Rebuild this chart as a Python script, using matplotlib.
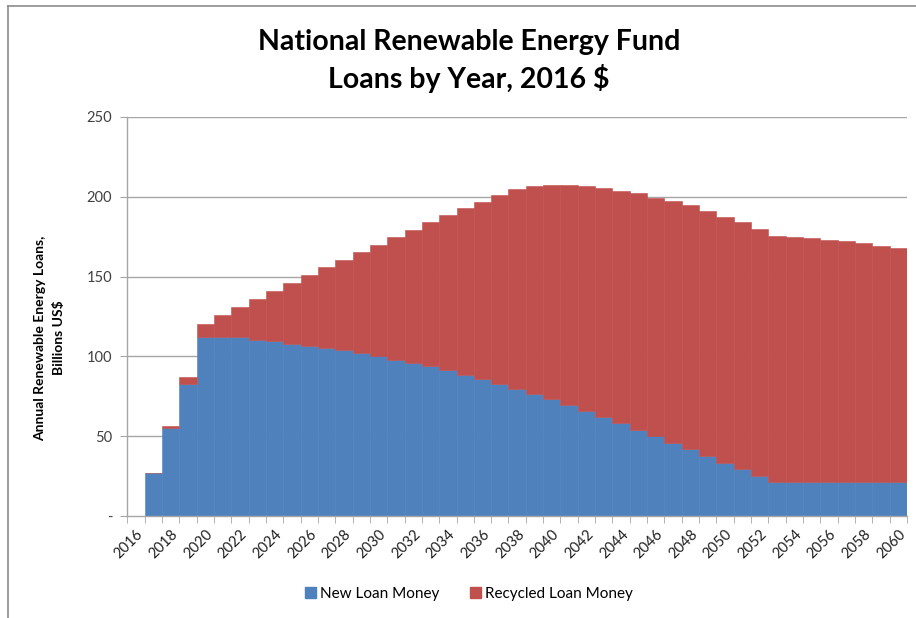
import matplotlib
matplotlib.use("Agg")
import matplotlib.pyplot as plt
from matplotlib.patches import Patch
from matplotlib.lines import Line2D

plt.rcParams['font.family'] = ['Lato', 'DejaVu Sans']

# Дані (млрд дол. США, ціни 2016 р.)
years = list(range(2016, 2061))
new_loan = [0, 27, 55, 83, 112, 112, 112, 110.5, 109.4, 108,
            106.7, 105.5, 103.7, 102.1, 100, 97.9, 95.9, 93.8, 91.3, 88.5,
            85.8, 82.9, 79.8, 76.7, 73.3, 69.5, 66, 61.8, 58.1, 54.1,
            50.1, 45.7, 41.8, 37.6, 33.2, 29.2, 25.1, 21.3, 21.3, 21.3,
            21.3, 21.3, 21.3, 21.3, 21.3]
recycled_loan = [0, 0, 1.5, 4, 8, 13.7, 19, 25.5, 31.4, 38,
                 44.1, 50.3, 56.7, 63.1, 69.8, 76.7, 83.3, 90.2, 97.3, 104.3,
                 111.1, 118.2, 124.9, 130.3, 134.1, 137.9, 140.6, 143.5, 145.7, 148.1,
                 149.3, 151.9, 152.9, 153.7, 154.3, 154.8, 154.5, 154.3, 153.7, 152.7,
                 151.8, 151, 149.7, 148.1, 146.4]
y_ticks = [0, 50, 100, 150, 200, 250]
y_tick_labels = ['-', '50', '100', '150', '200', '250']
series_names = ['New Loan Money', 'Recycled Loan Money']

blue = '#4F81BD'
red = '#C0504D'
grid_gray = '#A6A6A6'

fig = plt.figure(figsize=(9.16, 6.18), dpi=100)
ax = fig.add_axes([127.3 / 916, 1 - 516 / 618, (907 - 127.3) / 916, (516 - 117) / 618])

x = list(range(len(years)))
ax.bar(x, new_loan, width=1.0, color=blue, edgecolor=blue, linewidth=0.4, zorder=2)
ax.bar(x, recycled_loan, width=1.0, bottom=new_loan, color=red,
       edgecolor=red, linewidth=0.4, zorder=2)

ax.set_xlim(-0.5, len(years) - 0.5)
ax.set_ylim(0, 250)

# Горизонтальні лінії сітки
ax.set_yticks(y_ticks)
ax.set_yticklabels(y_tick_labels, fontsize=10.5, color='#404040')
for v in y_ticks[1:]:
    ax.axhline(v, color=grid_gray, linewidth=1.0, zorder=1)

# Підписи років через один, поділки між категоріями
ax.set_xticks(x[::2])
ax.set_xticklabels([str(y) for y in years[::2]], rotation=45, ha='right',
                   rotation_mode='anchor', fontsize=10.5, color='#202020')
ax.set_xticks([i - 0.5 for i in range(len(years) + 1)], minor=True)
ax.tick_params(axis='x', which='major', length=0, pad=8)
ax.tick_params(axis='x', which='minor', length=5, color=grid_gray, direction='out')
ax.tick_params(axis='y', length=5, color=grid_gray, direction='out', pad=6)

for side in ['top', 'right']:
    ax.spines[side].set_visible(False)
for side in ['left', 'bottom']:
    ax.spines[side].set_color(grid_gray)
    ax.spines[side].set_linewidth(1.0)

# Заголовок
fig.text(469 / 916, 1 - 50 / 618, 'National Renewable Energy Fund', ha='center',
         va='baseline', fontsize=20.5, fontweight='bold', color='black')
fig.text(469 / 916, 1 - 88 / 618, 'Loans by Year, 2016 $', ha='center',
         va='baseline', fontsize=20.5, fontweight='bold', color='black')

# Підпис осі Y
fig.text(40 / 916, 1 - 338 / 618, 'Annual Renewable Energy Loans,', rotation=90,
         ha='center', va='center', fontsize=10, fontweight='bold', color='black')
fig.text(59 / 916, 1 - 338 / 618, 'Billions US$', rotation=90,
         ha='center', va='center', fontsize=10, fontweight='bold', color='black')

# Легенда
handles = [Patch(facecolor=blue, edgecolor=blue), Patch(facecolor=red, edgecolor=red)]
fig.legend(handles, series_names, loc='center', bbox_to_anchor=(469 / 916, 1 - 594 / 618),
           ncol=2, frameon=False, handlelength=0.7, handleheight=0.7, handletextpad=0.3,
           columnspacing=2.0, prop={'size': 11})

# Рамка діаграми
fig.add_artist(Line2D([7.5 / 916, 7.5 / 916], [0, 1 - 6 / 618], transform=fig.transFigure,
                      color='#8C8C8C', linewidth=1.2))
fig.add_artist(Line2D([7.5 / 916, 1], [1 - 6 / 618, 1 - 6 / 618], transform=fig.transFigure,
                      color='#8C8C8C', linewidth=1.2))

fig.savefig('out.png', dpi=100)
